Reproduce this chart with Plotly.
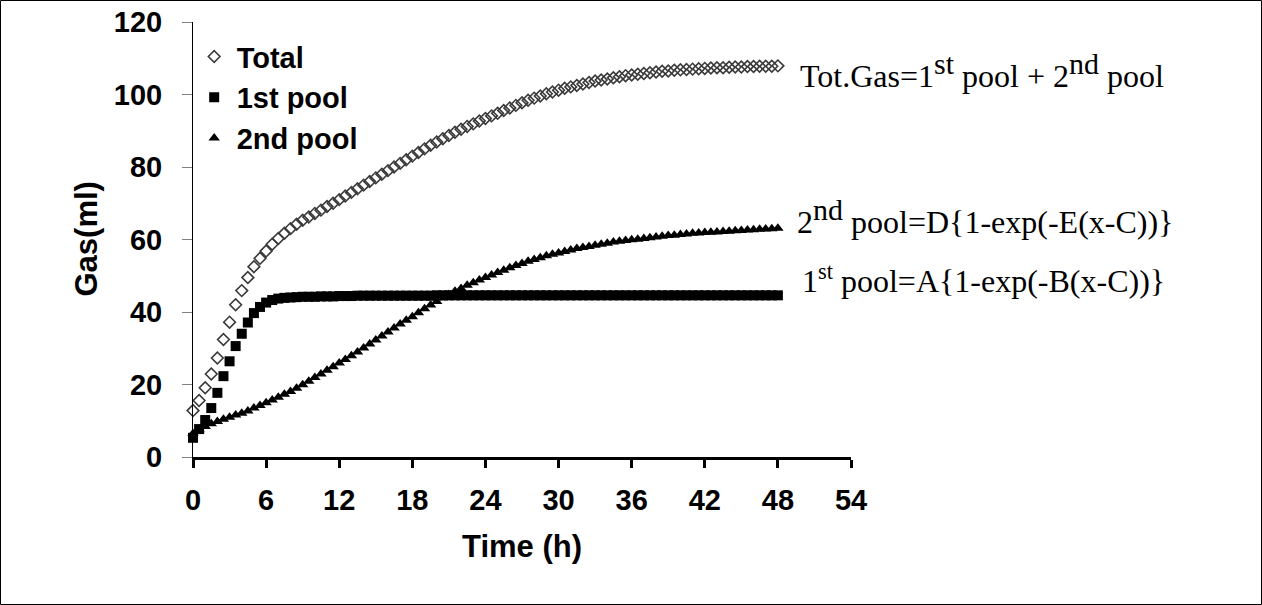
import plotly.graph_objects as go

# Sampling times (h)
times = [0, 0.5, 1, 1.5, 2, 2.5, 3, 3.5, 4, 4.5, 5, 5.5, 6, 6.5, 7, 7.5, 8, 8.5, 9, 9.5,
         10, 10.5, 11, 11.5, 12, 12.5, 13, 13.5, 14, 14.5, 15, 15.5, 16, 16.5, 17, 17.5,
         18, 18.5, 19, 19.5, 20, 20.5, 21, 21.5, 22, 22.5, 23, 23.5, 24, 24.5, 25, 25.5,
         26, 26.5, 27, 27.5, 28, 28.5, 29, 29.5, 30, 30.5, 31, 31.5, 32, 32.5, 33, 33.5,
         34, 34.5, 35, 35.5, 36, 36.5, 37, 37.5, 38, 38.5, 39, 39.5, 40, 40.5, 41, 41.5,
         42, 42.5, 43, 43.5, 44, 44.5, 45, 45.5, 46, 46.5, 47, 47.5, 48]

# Total gas (ml)
total_gas = [12.8, 15.6, 19.1, 22.9, 27.3, 32.4, 37.2, 42.0, 45.9, 49.5,
             52.5, 54.8, 56.8, 58.7, 60.3, 61.7, 63.0, 64.2, 65.3, 66.2,
             67.2, 68.1, 69.1, 70.0, 71.0, 72.0, 73.0, 74.0, 75.0, 76.0,
             77.0, 78.0, 79.0, 80.0, 81.0, 82.0, 83.0, 84.0, 85.0, 86.0,
             86.9, 87.8, 88.7, 89.6, 90.4, 91.2, 91.9, 92.7, 93.4, 94.1,
             94.8, 95.6, 96.3, 97.0, 97.7, 98.4, 99.0, 99.6, 100.2, 100.7,
             101.2, 101.7, 102.1, 102.5, 102.9, 103.3, 103.7, 104.0, 104.3, 104.6,
             104.9, 105.2, 105.4, 105.6, 105.8, 106.0, 106.2, 106.4, 106.5, 106.7,
             106.8, 106.9, 107.0, 107.1, 107.2, 107.3, 107.4, 107.4, 107.5, 107.6,
             107.6, 107.7, 107.7, 107.8, 107.8, 107.8, 107.9]

# First (fast) pool (ml)
pool_1st = [5.3, 7.7, 10.2, 13.5, 17.7, 22.3, 26.4, 30.6, 34.0, 37.1,
            39.7, 41.4, 42.6, 43.3, 43.7, 43.9, 44.0, 44.1, 44.2, 44.2,
            44.2, 44.3, 44.3, 44.3, 44.4, 44.4, 44.4, 44.5, 44.5, 44.5,
            44.5, 44.5, 44.5, 44.5, 44.5, 44.5, 44.5, 44.5, 44.5, 44.5,
            44.6, 44.6, 44.6, 44.6, 44.6, 44.6, 44.6, 44.6, 44.6, 44.6,
            44.6, 44.6, 44.6, 44.6, 44.6, 44.6, 44.6, 44.6, 44.6, 44.6,
            44.6, 44.6, 44.6, 44.6, 44.6, 44.6, 44.6, 44.6, 44.6, 44.6,
            44.6, 44.6, 44.6, 44.6, 44.6, 44.6, 44.6, 44.6, 44.6, 44.6,
            44.6, 44.6, 44.6, 44.6, 44.6, 44.6, 44.6, 44.6, 44.6, 44.6,
            44.6, 44.6, 44.6, 44.6, 44.6, 44.6, 44.6]

# Second (slow) pool (ml)
pool_2nd = [6.5, 7.5, 8.4, 9.2, 9.8, 10.4, 11.0, 11.6, 12.1, 12.7,
            13.5, 14.2, 15.0, 15.7, 16.5, 17.3, 18.1, 19.0, 19.9, 20.9,
            21.9, 22.9, 23.9, 24.9, 25.9, 26.9, 27.9, 29.0, 30.1, 31.2,
            32.3, 33.4, 34.5, 35.6, 36.7, 37.7, 38.7, 39.8, 40.9, 41.9,
            42.9, 43.9, 44.8, 45.7, 46.5, 47.4, 48.1, 48.8, 49.5, 50.2,
            50.9, 51.5, 52.2, 52.8, 53.4, 54.0, 54.5, 55.0, 55.5, 55.9,
            56.3, 56.7, 57.1, 57.5, 57.8, 58.1, 58.4, 58.7, 59.0, 59.3,
            59.5, 59.7, 59.9, 60.1, 60.3, 60.5, 60.7, 60.9, 61.1, 61.2,
            61.4, 61.5, 61.7, 61.8, 61.9, 62.0, 62.1, 62.2, 62.3, 62.4,
            62.5, 62.6, 62.7, 62.8, 62.9, 63.0, 63.1]

x_ticks = [0, 6, 12, 18, 24, 30, 36, 42, 48, 54]
y_ticks = [0, 20, 40, 60, 80, 100, 120]

W, H = 1262, 605
L, R, T, B = 193, 411, 22, 148
PW, PH = W - L - R, H - T - B

SANS = "Arial, Liberation Sans, sans-serif"
SERIF = "Times New Roman, Liberation Serif, serif"
BOLD = dict(family=SANS, color="black", weight="bold")

fig = go.Figure()
fig.add_trace(go.Scatter(
    x=times, y=total_gas, mode="markers", name="Total", cliponaxis=False,
    marker=dict(symbol="diamond-open", size=9, color="#3a3a3a", line=dict(width=1.6, color="#3a3a3a")),
))
fig.add_trace(go.Scatter(
    x=times, y=pool_1st, mode="markers", name="1st pool", cliponaxis=False,
    marker=dict(symbol="square", size=10, color="black"),
))
fig.add_trace(go.Scatter(
    x=times, y=pool_2nd, mode="markers", name="2nd pool", cliponaxis=False,
    marker=dict(symbol="triangle-up", size=10, color="black"),
))

# Model equations next to the last point of each curve
eq_font = dict(family=SERIF, size=32, color="black")
big_sup = lambda s: "<sup><span style='font-size:30px'>" + s + "</span></sup>"
fig.add_annotation(x=times[-1], y=total_gas[-1], xref="x", yref="y",
                   xanchor="left", yanchor="bottom", xshift=20, yshift=-30,
                   text="Tot.Gas=1" + big_sup("st") + " pool + 2" + big_sup("nd") + " pool",
                   showarrow=False, font=eq_font)
fig.add_annotation(x=times[-1], y=pool_2nd[-1], xref="x", yref="y",
                   xanchor="left", yanchor="bottom", xshift=17, yshift=-14,
                   text="2" + big_sup("nd") + " pool=D{1-exp(-E(x-C))}",
                   showarrow=False, font=eq_font)
fig.add_annotation(x=times[-1], y=pool_1st[-1], xref="x", yref="y",
                   xanchor="left", yanchor="bottom", xshift=22, yshift=-6,
                   text="1<sup>st</sup> pool=A{1-exp(-B(x-C))}",
                   showarrow=False, font=eq_font)

# Axis titles
fig.add_annotation(x=0.5, y=(457 - 526.5) / PH, xref="paper", yref="paper",
                   xanchor="center", yanchor="top", text="Time (h)", showarrow=False,
                   font=dict(size=31, **BOLD))
fig.add_annotation(x=(86 - L) / PW, y=0.5, xref="paper", yref="paper",
                   xanchor="center", yanchor="middle", textangle=-90, text="Gas(ml)",
                   showarrow=False, font=dict(size=31, **BOLD))

# Outer frame around the whole figure
fig.add_shape(type="rect", xref="paper", yref="paper",
              x0=(0.5 - L) / PW, x1=(W - 0.5 - L) / PW,
              y0=(0.5 - B) / PH, y1=(H - 0.5 - B) / PH,
              line=dict(color="black", width=1), layer="above")

fig.update_layout(
    width=W, height=H,
    margin=dict(l=L, r=R, t=T, b=B, autoexpand=False),
    paper_bgcolor="white", plot_bgcolor="white",
    showlegend=True,
    legend=dict(x=-0.002, y=0.979, xanchor="left", yanchor="top",
                bgcolor="rgba(0,0,0,0)", borderwidth=0,
                font=dict(size=29, **BOLD), itemwidth=35, tracegroupgap=0),
    xaxis=dict(range=[0, 54], tickmode="array", tickvals=x_ticks, ticktext=[str(v) for v in x_ticks],
               showgrid=False, zeroline=False, showline=True, linecolor="black", linewidth=3,
               ticks="outside", ticklen=8, tickwidth=3, tickcolor="black",
               ticklabelstandoff=7, tickfont=dict(size=29, **BOLD)),
    yaxis=dict(range=[0, 120], tickmode="array", tickvals=y_ticks, ticktext=[str(v) for v in y_ticks],
               showgrid=False, zeroline=False, showline=True, linecolor="black", linewidth=1,
               ticks="outside", ticklen=10, tickwidth=1, tickcolor="#808080",
               ticklabelstandoff=14, tickfont=dict(size=29, **BOLD)),
)

fig.write_html("out.html")
